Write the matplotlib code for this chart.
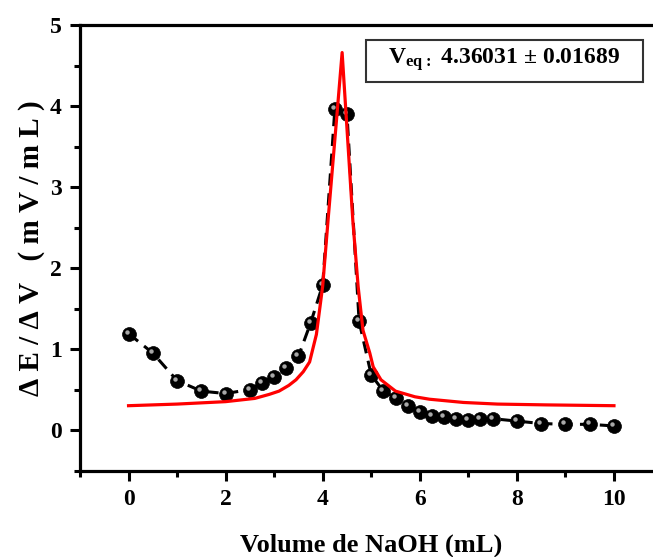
import matplotlib
matplotlib.use("Agg")
import matplotlib.pyplot as plt
import matplotlib.transforms as mtransforms
from matplotlib.patches import Rectangle
from matplotlib.ticker import MultipleLocator

# measured derivative dE/dV vs added NaOH volume
volume = [0, 0.5, 1, 1.5, 2, 2.5, 2.75, 3, 3.25, 3.5, 3.75, 4, 4.25, 4.5,
          4.75, 5, 5.25, 5.5, 5.75, 6, 6.25, 6.5, 6.75, 7, 7.25, 7.5,
          8, 8.5, 9, 9.5, 10]
dEdV = [1.19, 0.95, 0.61, 0.48, 0.45, 0.50, 0.58, 0.66, 0.77, 0.91, 1.32, 1.79,
        3.96, 3.90, 1.34, 0.68, 0.48, 0.40, 0.30, 0.22, 0.17, 0.16, 0.14, 0.12,
        0.14, 0.14, 0.11, 0.08, 0.07, 0.07, 0.05]

# fitted (Lorentz) curve
fit_x = [0, 1.0, 2.0, 2.6, 2.9, 3.1, 3.3, 3.45, 3.6, 3.73, 3.87, 4.0, 4.11,
         4.2, 4.3, 4.4, 4.5, 4.62, 4.73, 4.83, 4.97, 5.04, 5.2, 5.5, 5.9,
         6.2, 6.9, 7.6, 8.6, 10]
fit_y = [0.30, 0.32, 0.35, 0.39, 0.44, 0.48, 0.55, 0.62, 0.72, 0.84, 1.18, 1.78,
         2.59, 3.23, 3.94, 4.66, 3.72, 2.59, 1.77, 1.23, 0.95, 0.78, 0.62, 0.48,
         0.41, 0.38, 0.34, 0.32, 0.31, 0.30]

veq_label = r"$\mathbf{V_{eq:}}$ 4.36031 ± 0.01689"
# the reference label is drawn wide, so space the letters a little
ylabel = "\u2005".join("ΔE/ΔV") + " \u2002" + "\u2005".join("(mV/mL)")

plt.rcParams["font.family"] = ["Liberation Serif", "DejaVu Serif"]
plt.rcParams["font.weight"] = "bold"
plt.rcParams["mathtext.fontset"] = "custom"
plt.rcParams["mathtext.bf"] = "Liberation Serif:bold"
plt.rcParams["mathtext.rm"] = "Liberation Serif:bold"

fig = plt.figure(figsize=(6.53, 5.57), dpi=100)
ax = fig.add_axes([80 / 653, 86.5 / 557, 582.5 / 653, 445.5 / 557])

ax.plot(volume, dEdV, color="black", lw=2.2, ls=(0, (4, 2.5)), zorder=2)
ax.plot(volume, dEdV, ls="none", marker="o", ms=10, mfc="black", mec="black",
        mew=0.5, zorder=3)
# little highlight to give the balls a 3d look
shift = mtransforms.ScaledTranslation(-2.0 / 100, 2.0 / 100, fig.dpi_scale_trans)
ax.plot(volume, dEdV, ls="none", marker="o", ms=3.2, mfc="#a8a8a8", mec="none",
        transform=ax.transData + shift, zorder=4)
ax.plot(fit_x, fit_y, color="#ff0000", lw=2.3, zorder=5)

ax.set_xlim(-1, 11)
ax.set_ylim(-0.5, 5)
ax.xaxis.set_major_locator(MultipleLocator(2))
ax.xaxis.set_minor_locator(MultipleLocator(1))
ax.yaxis.set_major_locator(MultipleLocator(1))
ax.yaxis.set_minor_locator(MultipleLocator(0.5))
ax.tick_params(which="major", direction="out", length=7, width=2.2,
               labelsize=17, pad=6)
ax.tick_params(which="minor", direction="out", length=4, width=2.2)
ax.tick_params(top=False, right=False)
for sp in ax.spines.values():
    sp.set_linewidth(2.3)

ax.set_xlabel("Volume de NaOH (mL)", fontsize=19, fontweight="bold", labelpad=17)
ax.set_ylabel(ylabel, fontsize=21, fontweight="bold", labelpad=4)

# V_eq box
fig.add_artist(Rectangle((366 / 653, 1 - 82 / 557), 277 / 653, 42 / 557,
                         transform=fig.transFigure, fc="white", ec="#333333",
                         lw=1.5, zorder=6))
fig.text(504 / 653, 1 - 60 / 557, veq_label, ha="center", va="center",
         fontsize=17, fontweight="bold", zorder=7)

fig.savefig("out.png", dpi=100)
